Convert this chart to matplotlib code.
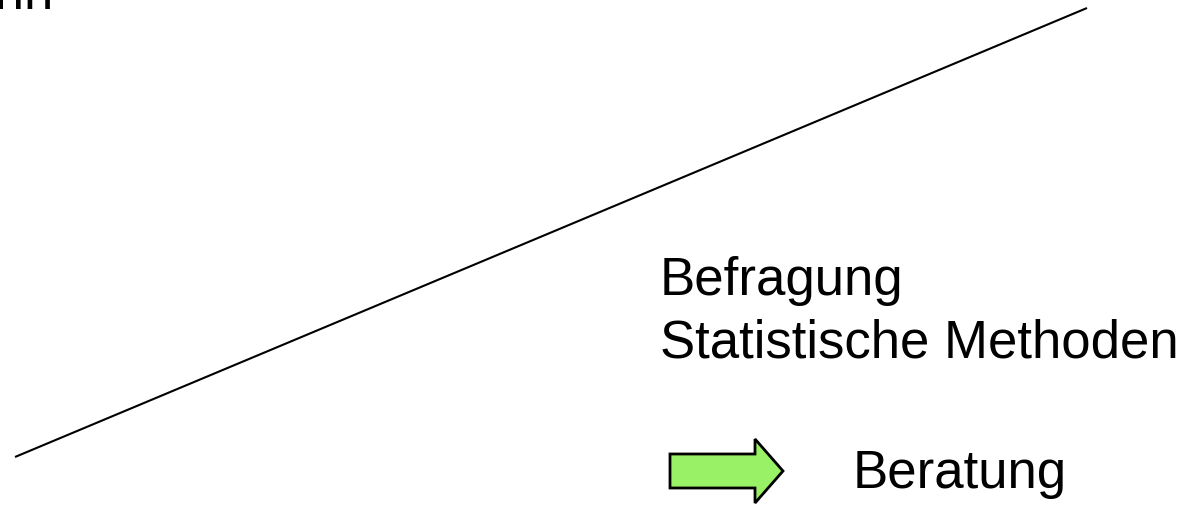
import matplotlib.pyplot as plt
import matplotlib.patches as mpatches

# diagonal line (pixel coords, y downward)
line_x = [15, 1087]
line_y = [458, 9]

# text labels
methods = ['Befragung', 'Statistische Methoden']
result = 'Beratung'
cut_label = 'Lohn'

plt.rcParams['font.family'] = ['Liberation Sans', 'DejaVu Sans']

fig = plt.figure(figsize=(11.97, 5.06), dpi=100)
ax = fig.add_axes([0, 0, 1, 1])
ax.set_xlim(0, 1197)
ax.set_ylim(506, 0)
ax.axis('off')

ax.plot(line_x, line_y, color='black', lw=1.5, solid_capstyle='butt')

# label cut off at top edge
ax.text(54, 8, cut_label, fontsize=38, ha='right', va='baseline')

for i, t in enumerate(methods):
    ax.text(660, 295 + i * 62, t, fontsize=38, ha='left', va='baseline')

# green block arrow
arrow = mpatches.FancyArrow(670, 472, 113, 0, width=34, head_width=64,
                            head_length=28, length_includes_head=True,
                            facecolor='#99f266', edgecolor='black', lw=2)
ax.add_patch(arrow)

ax.text(853, 488, result, fontsize=38, ha='left', va='baseline')

fig.savefig('out.png', dpi=100)
